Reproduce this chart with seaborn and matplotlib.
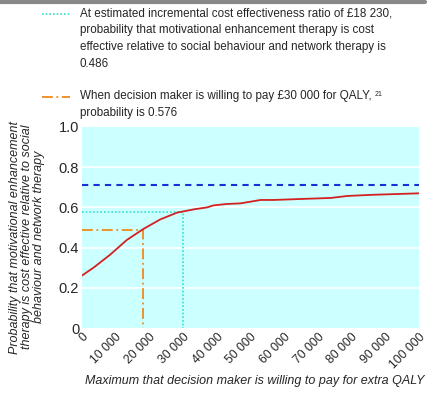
import matplotlib
matplotlib.use("Agg")
import matplotlib.pyplot as plt
from matplotlib.lines import Line2D
import seaborn as sns
import pandas as pd

sns.set_theme(style="white")
plt.rcParams['font.family'] = ['Liberation Sans', 'DejaVu Sans']

wtp = [0, 3400, 8300, 13300, 18250, 23200, 28200, 33100, 37100, 39000, 43000, 47000,
       53000, 56800, 66900, 73800, 78800, 86600, 100000]
prob = [0.261, 0.30, 0.364, 0.438, 0.493, 0.54, 0.574, 0.59, 0.60, 0.61, 0.617, 0.62,
        0.637, 0.637, 0.643, 0.647, 0.657, 0.663, 0.67]
icer_x, icer_p = 30000, 0.576
wtp_x, wtp_p = 18230, 0.486
ceiling = 0.712
xticks = [0, 10000, 20000, 30000, 40000, 50000, 60000, 70000, 80000, 90000, 100000]
xticklabels = ["0", "10 000", "20 000", "30 000", "40 000", "50 000", "60 000",
               "70 000", "80 000", "90 000", "100 000"]
yticks = [0, 0.2, 0.4, 0.6, 0.8, 1.0]
yticklabels = ["0", "0.2", "0.4", "0.6", "0.8", "1.0"]

W, H = 430, 404
fig = plt.figure(figsize=(W/100, H/100), dpi=100)
ax = fig.add_axes([82/W, 1-328/H, (419-82)/W, (328-127)/H])
ax.set_facecolor("#ccffff")
for s in ax.spines.values():
    s.set_visible(False)

for yv in yticks[1:-1]:
    ax.axhline(yv, color="white", lw=1.2, zorder=1)

df = pd.DataFrame({"wtp": wtp, "prob": prob})
sns.lineplot(data=df, x="wtp", y="prob", color="#d42020", lw=1.3, ax=ax, zorder=4)

ax.axhline(ceiling, color="#1a2fd6", lw=1.5, ls=(0, (3, 2.5)), zorder=3)
cyan = "#33e0d0"
orange = "#f08a1a"
ax.plot([0, icer_x, icer_x], [icer_p, icer_p, 0], color=cyan, lw=1.2, ls=(0, (1, 1.2)), zorder=3)
ax.plot([0, wtp_x, wtp_x], [wtp_p, wtp_p, 0], color=orange, lw=1.3, ls=(0, (6, 2, 1, 2)), zorder=3)

ax.set_xlim(0, 100000)
ax.set_ylim(0, 1.0)
ax.set_xticks(xticks)
ax.set_xticklabels(xticklabels, rotation=45, ha="right", rotation_mode="anchor", fontsize=8.8)
ax.set_yticks(yticks)
ax.set_yticklabels(yticklabels, fontsize=10.5)
ax.tick_params(axis="both", length=0, pad=2)
ax.set_xlabel("")
ax.set_ylabel("")
fig.text(255/W, 1-381/H, "Maximum that decision maker is willing to pay for extra QALY",
         fontsize=9.0, style="italic", ha="center", va="center")
fig.text(27/W, 1-237/H,
         "Probability that motivational enhancement\ntherapy is cost effective relative to social\nbehaviour and network therapy",
         fontsize=9.0, style="italic", linespacing=1.05, ha="center", va="center",
         rotation=90, multialignment="center")

# top grey rule
fig.add_artist(Line2D([0, 425/W], [1-1.5/H, 1-1.5/H], color="#888888", lw=3))

# legend
fig.add_artist(Line2D([42/W, 70/W], [1-14/H, 1-14/H], color=cyan, lw=1.2, ls=(0, (1, 1.2))))
fig.text(80/W, 1-7/H,
         "At estimated incremental cost effectiveness ratio of £18 230,\nprobability that motivational enhancement therapy is cost\neffective relative to social behaviour and network therapy is\n0.486",
         fontsize=8.4, va="top", ha="left", linespacing=1.55)
fig.add_artist(Line2D([42/W, 70/W], [1-97/H, 1-97/H], color=orange, lw=1.3, ls=(0, (6, 2, 1, 2))))
t1 = fig.text(80/W, 1-90/H, "When decision maker is willing to pay £30 000 for QALY,",
              fontsize=8.4, va="top", ha="left")
fig.text(80/W, 1-107/H, "probability is 0.576", fontsize=8.4, va="top", ha="left")
renderer = fig.canvas.get_renderer()
bb = t1.get_window_extent(renderer)
fig.text((bb.x1 + 3)/W, bb.y1/H - 1/H, "21", fontsize=5.0, va="top", ha="left")

fig.savefig("out.png", dpi=100)
